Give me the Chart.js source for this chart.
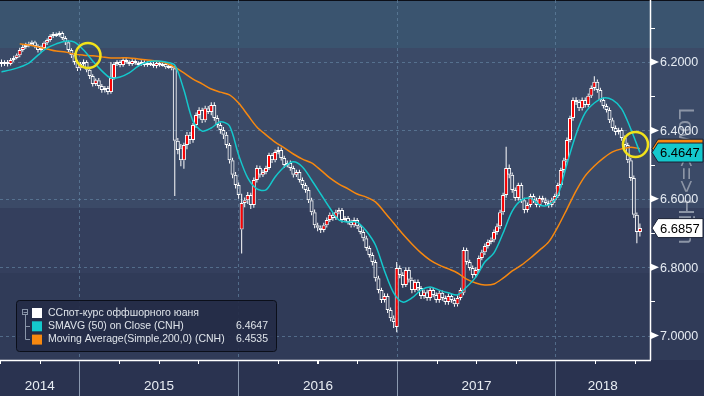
<!DOCTYPE html>
<html>
<head>
<meta charset="utf-8">
<script src="https://cdn.jsdelivr.net/npm/chart.js@4.4.1/dist/chart.umd.min.js"></script>
<style>
  html, body { margin: 0; padding: 0; background: #2a3350; }
  canvas { display: block; }
</style>
</head>
<body>
<canvas id="myChart" width="704" height="396"></canvas>
<script>
// USD/CNH weekly candles, week 0 = early July 2014
const opens = [
  6.200,6.206,6.200,6.206,6.194,6.188,6.180,6.165,6.156,6.150,
  6.147,6.142,6.153,6.165,6.159,6.144,6.136,6.124,6.118,6.121,
  6.115,6.130,6.142,6.165,6.180,6.200,6.218,6.206,6.200,6.223,
  6.241,6.264,6.253,6.270,6.282,6.276,6.288,6.247,6.206,6.200,
  6.209,6.194,6.200,6.206,6.197,6.203,6.206,6.200,6.209,6.203,
  6.206,6.212,6.203,6.209,6.206,6.215,6.212,6.218,6.430,6.450,
  6.487,6.443,6.413,6.428,6.384,6.355,6.340,6.370,6.335,6.346,
  6.326,6.364,6.384,6.399,6.413,6.443,6.487,6.530,6.560,6.690,
  6.612,6.604,6.589,6.618,6.545,6.510,6.530,6.522,6.510,6.472,
  6.487,6.463,6.457,6.481,6.501,6.495,6.510,6.530,6.522,6.545,
  6.560,6.574,6.604,6.639,6.677,6.685,6.691,6.677,6.662,6.647,
  6.656,6.639,6.633,6.662,6.656,6.668,6.677,6.662,6.680,6.697,
  6.715,6.744,6.764,6.785,6.832,6.867,6.896,6.884,6.925,6.949,
  6.975,6.802,6.823,6.852,6.808,6.837,6.867,6.843,6.861,6.884,
  6.873,6.890,6.867,6.881,6.896,6.875,6.890,6.902,6.884,6.896,
  6.908,6.890,6.875,6.750,6.785,6.802,6.823,6.808,6.773,6.756,
  6.738,6.726,6.720,6.697,6.680,6.639,6.589,6.510,6.530,6.574,
  6.598,6.560,6.604,6.633,6.618,6.592,6.604,6.618,6.598,6.604,
  6.612,6.618,6.604,6.592,6.560,6.516,6.487,6.428,6.364,6.311,
  6.317,6.335,6.311,6.326,6.299,6.276,6.258,6.282,6.311,6.329,
  6.340,6.370,6.393,6.405,6.399,6.422,6.443,6.487,6.539,6.647,
  6.697
];
const highs = [
  6.214,6.212,6.213,6.210,6.199,6.192,6.186,6.170,6.161,6.157,
  6.153,6.160,6.172,6.170,6.163,6.150,6.141,6.130,6.127,6.126,
  6.136,6.150,6.171,6.188,6.208,6.226,6.225,6.212,6.230,6.250,
  6.272,6.270,6.278,6.290,6.289,6.295,6.293,6.252,6.212,6.215,
  6.214,6.205,6.212,6.211,6.208,6.213,6.211,6.214,6.214,6.212,
  6.217,6.218,6.214,6.213,6.220,6.220,6.224,6.592,6.470,6.505,
  6.512,6.455,6.440,6.436,6.392,6.365,6.378,6.376,6.352,6.356,
  6.372,6.392,6.410,6.425,6.452,6.497,6.540,6.570,6.600,6.760,
  6.625,6.615,6.630,6.626,6.552,6.538,6.536,6.528,6.516,6.495,
  6.493,6.470,6.488,6.510,6.508,6.518,6.538,6.536,6.552,6.570,
  6.582,6.612,6.648,6.686,6.695,6.700,6.698,6.684,6.668,6.664,
  6.662,6.645,6.670,6.668,6.675,6.684,6.683,6.688,6.704,6.724,
  6.752,6.772,6.795,6.842,6.876,6.905,6.903,6.934,6.958,6.978,
  6.990,6.832,6.860,6.858,6.845,6.876,6.873,6.870,6.893,6.892,
  6.898,6.898,6.888,6.904,6.904,6.898,6.910,6.910,6.904,6.916,
  6.915,6.897,6.882,6.793,6.810,6.832,6.830,6.815,6.780,6.764,
  6.745,6.733,6.727,6.705,6.688,6.647,6.597,6.540,6.582,6.606,
  6.605,6.612,6.642,6.640,6.625,6.612,6.625,6.625,6.610,6.618,
  6.626,6.625,6.612,6.598,6.567,6.524,6.494,6.435,6.372,6.326,
  6.343,6.342,6.333,6.332,6.305,6.284,6.290,6.318,6.336,6.348,
  6.378,6.401,6.414,6.412,6.430,6.452,6.495,6.548,6.656,6.730,
  6.710
];
const lows = [
  6.193,6.195,6.194,6.188,6.182,6.175,6.158,6.150,6.144,6.141,
  6.137,6.138,6.148,6.152,6.140,6.131,6.119,6.112,6.114,6.110,
  6.111,6.124,6.137,6.160,6.174,6.194,6.200,6.193,6.195,6.217,
  6.236,6.248,6.247,6.264,6.270,6.270,6.200,6.200,6.195,6.195,
  6.189,6.189,6.195,6.192,6.192,6.198,6.195,6.195,6.198,6.198,
  6.200,6.198,6.198,6.201,6.201,6.207,6.207,6.212,6.422,6.440,
  6.436,6.405,6.405,6.378,6.348,6.332,6.334,6.328,6.329,6.318,
  6.318,6.356,6.377,6.390,6.405,6.437,6.480,6.522,6.552,6.585,
  6.596,6.580,6.582,6.538,6.502,6.503,6.515,6.503,6.465,6.466,
  6.456,6.448,6.450,6.474,6.488,6.488,6.503,6.515,6.515,6.538,
  6.553,6.566,6.597,6.631,6.670,6.678,6.670,6.655,6.640,6.640,
  6.632,6.626,6.627,6.650,6.650,6.661,6.655,6.656,6.674,6.690,
  6.708,6.737,6.757,6.778,6.825,6.860,6.876,6.877,6.918,6.941,
  6.785,6.795,6.815,6.800,6.800,6.830,6.836,6.836,6.855,6.866,
  6.866,6.860,6.860,6.874,6.868,6.868,6.883,6.877,6.877,6.889,
  6.883,6.860,6.742,6.743,6.778,6.795,6.800,6.766,6.749,6.731,
  6.719,6.713,6.690,6.672,6.632,6.582,6.448,6.500,6.523,6.567,
  6.553,6.553,6.597,6.611,6.585,6.585,6.597,6.591,6.591,6.597,
  6.605,6.597,6.585,6.553,6.509,6.480,6.421,6.357,6.304,6.303,
  6.310,6.304,6.304,6.292,6.269,6.242,6.251,6.275,6.304,6.322,
  6.333,6.363,6.386,6.392,6.392,6.415,6.436,6.480,6.532,6.640,
  6.672
];
const closes = [
  6.206,6.200,6.206,6.194,6.188,6.180,6.165,6.156,6.150,6.147,
  6.142,6.153,6.165,6.159,6.144,6.136,6.124,6.118,6.121,6.115,
  6.130,6.142,6.165,6.180,6.200,6.218,6.206,6.200,6.223,6.241,
  6.264,6.253,6.270,6.282,6.276,6.288,6.247,6.206,6.200,6.209,
  6.194,6.200,6.206,6.197,6.203,6.206,6.200,6.209,6.203,6.206,
  6.212,6.203,6.209,6.206,6.215,6.212,6.218,6.430,6.457,6.487,
  6.443,6.413,6.428,6.384,6.355,6.340,6.370,6.335,6.346,6.326,
  6.364,6.384,6.399,6.413,6.443,6.487,6.530,6.560,6.589,6.612,
  6.604,6.589,6.618,6.545,6.510,6.530,6.522,6.510,6.472,6.487,
  6.463,6.457,6.481,6.501,6.495,6.510,6.530,6.522,6.545,6.560,
  6.574,6.604,6.639,6.677,6.685,6.691,6.677,6.662,6.647,6.656,
  6.639,6.633,6.662,6.656,6.668,6.677,6.662,6.680,6.697,6.715,
  6.744,6.764,6.785,6.832,6.867,6.896,6.884,6.925,6.949,6.960,
  6.802,6.823,6.852,6.808,6.837,6.867,6.843,6.861,6.884,6.873,
  6.890,6.867,6.881,6.896,6.875,6.890,6.902,6.884,6.896,6.908,
  6.890,6.867,6.750,6.785,6.802,6.823,6.808,6.773,6.756,6.738,
  6.726,6.720,6.697,6.680,6.639,6.589,6.510,6.530,6.574,6.598,
  6.560,6.604,6.633,6.618,6.592,6.604,6.618,6.598,6.604,6.612,
  6.618,6.604,6.592,6.560,6.516,6.487,6.428,6.364,6.311,6.317,
  6.335,6.311,6.326,6.299,6.276,6.258,6.282,6.311,6.329,6.340,
  6.370,6.393,6.405,6.399,6.422,6.443,6.487,6.539,6.647,6.697,
  6.6857
];

const sma50 = [
  6.229,6.223,6.215,6.203,6.180,6.159,6.147,6.139,6.142,6.165,
  6.197,6.226,6.247,6.244,6.232,6.212,6.200,6.197,6.200,6.209,
  6.282,6.373,6.402,6.393,6.375,6.387,6.472,6.539,6.571,6.574,
  6.536,6.507,6.492,6.507,6.545,6.586,6.627,6.662,6.668,6.668,
  6.694,6.735,6.811,6.875,6.902,6.890,6.867,6.858,6.867,6.875,
  6.881,6.858,6.829,6.785,6.758,6.700,6.636,6.604,6.598,6.618,
  6.618,6.589,6.498,6.411,6.349,6.320,6.305,6.311,6.337,6.396,
  6.4647
];
const sma200 = [
  null,null,6.147,6.150,6.156,6.162,6.168,6.171,6.177,6.180,
  6.182,6.185,6.188,6.188,6.188,6.191,6.194,6.197,6.203,6.215,
  6.232,6.250,6.264,6.279,6.288,6.296,6.320,6.355,6.390,6.413,
  6.434,6.451,6.469,6.484,6.495,6.516,6.539,6.557,6.571,6.586,
  6.595,6.609,6.639,6.671,6.703,6.732,6.758,6.779,6.794,6.805,
  6.817,6.835,6.846,6.852,6.849,6.832,6.811,6.794,6.773,6.750,
  6.726,6.682,6.630,6.577,6.533,6.504,6.481,6.463,6.454,6.449,
  6.4535
];

const yearLabels = ['2014', '2015', '2016', '2017', '2018'];
const yearStarts = [25.6, 77.8, 130.1, 182.2];   // week of 1 Jan
const priceTicks = [6.2, 6.4, 6.6, 6.8, 7.0];
const minorTicks = [6.1, 6.3, 6.5, 6.7, 6.9];
const lastClose = 6.6857;
const lastSma50 = 6.4647;
const lastSma200 = 6.4535;
const circleWeeks = [28.45, 208.55];
const circleValues = [6.181, 6.441];

const legendRows = [
  { text: 'ССпот-курс оффшорного юаня', color: '#ffffff', value: '' },
  { text: 'SMAVG (50) on Close (CNH)', color: '#14c8cc', value: lastSma50.toFixed(4) },
  { text: 'Moving Average(Simple,200,0) (CNH)', color: '#f7880f', value: lastSma200.toFixed(4) }
];

const bodies = closes.map((c, i) => ({ x: i, y: [opens[i], c] }));
const upperWicks = closes.map((c, i) => ({ x: i, y: [Math.max(opens[i], c), highs[i]] }));
const lowerWicks = closes.map((c, i) => ({ x: i, y: [lows[i], Math.min(opens[i], c)] }));
const bodyFill = closes.map((c, i) => c < opens[i] ? '#ff0000' : 'rgba(0,0,0,0)');
const line50 = sma50.map((v, k) => ({ x: k * 3, y: v }));
const line200 = sma200.map((v, k) => ({ x: k * 3, y: v }));

const FONT = '"Liberation Sans", Arial, sans-serif';

function tag(ctx, y, fill, text) {
  ctx.beginPath();
  ctx.moveTo(652, y);
  ctx.lineTo(658, y - 9.5);
  ctx.lineTo(703, y - 9.5);
  ctx.lineTo(703, y + 9.5);
  ctx.lineTo(658, y + 9.5);
  ctx.closePath();
  ctx.fillStyle = fill;
  ctx.fill();
  ctx.strokeStyle = '#1a2236';
  ctx.lineWidth = 1;
  ctx.stroke();
  ctx.fillStyle = '#000000';
  ctx.font = '13px ' + FONT;
  ctx.textAlign = 'left';
  ctx.textBaseline = 'middle';
  ctx.fillText(text, 660, y + 1);
}

const decor = {
  id: 'decor',
  beforeDraw(chart) {
    const ctx = chart.ctx;
    ctx.save();
    const bands = [[0, 48, '#3a546f'], [48, 160, '#3b4a67'], [208, 65, '#343f5d'], [273, 87, '#303b58'], [360, 36, '#2a3350']];
    bands.forEach(b => { ctx.fillStyle = b[2]; ctx.fillRect(0, b[0], 704, b[1]); });
    ctx.fillStyle = '#0c0f18';
    ctx.fillRect(0, 0, 704, 1);

    // axis title sits behind the labels and value tags
    ctx.translate(685, 176);
    ctx.rotate(Math.PI / 2);
    ctx.fillStyle = '#8c95a6';
    ctx.font = '22px ' + FONT;
    ctx.textAlign = 'center';
    ctx.textBaseline = 'middle';
    ctx.fillText('Low <=> High', 0, 0);
    ctx.restore();
  },
  beforeDatasetsDraw(chart) {
    const ctx = chart.ctx, sx = chart.scales.x, sy = chart.scales.y, ca = chart.chartArea;
    ctx.save();
    ctx.strokeStyle = 'rgba(105,140,170,0.6)';
    ctx.lineWidth = 1;
    ctx.setLineDash([3, 3]);
    priceTicks.forEach(v => {
      const y = Math.round(sy.getPixelForValue(v)) + 0.5;
      ctx.beginPath(); ctx.moveTo(ca.left, y); ctx.lineTo(ca.right, y); ctx.stroke();
    });
    yearStarts.forEach(w => {
      const x = Math.round(sx.getPixelForValue(w)) + 0.5;
      ctx.beginPath(); ctx.moveTo(x, ca.top); ctx.lineTo(x, ca.bottom); ctx.stroke();
    });
    ctx.restore();
  },
  afterDatasetsDraw(chart) {
    const ctx = chart.ctx, sx = chart.scales.x, sy = chart.scales.y, ca = chart.chartArea;
    ctx.save();

    // yellow highlight circles
    ctx.strokeStyle = '#f2e21a';
    ctx.lineWidth = 2.5;
    circleWeeks.forEach((w, i) => {
      ctx.beginPath();
      ctx.arc(sx.getPixelForValue(w), sy.getPixelForValue(circleValues[i]), 12.5, 0, Math.PI * 2);
      ctx.stroke();
    });

    // axis lines
    ctx.strokeStyle = '#ffffff';
    ctx.lineWidth = 1.5;
    ctx.beginPath();
    ctx.moveTo(ca.right + 0.5, 0); ctx.lineTo(ca.right + 0.5, ca.bottom);
    ctx.moveTo(0, ca.bottom + 0.5); ctx.lineTo(ca.right + 1, ca.bottom + 0.5);
    ctx.stroke();

    // y minor ticks
    ctx.lineWidth = 1;
    minorTicks.forEach(v => {
      const y = Math.round(sy.getPixelForValue(v)) + 0.5;
      ctx.beginPath(); ctx.moveTo(ca.right, y); ctx.lineTo(ca.right + 5, y); ctx.stroke();
    });

    // y labels with arrows
    ctx.font = '12.5px ' + FONT;
    ctx.textAlign = 'left';
    ctx.textBaseline = 'middle';
    priceTicks.forEach(v => {
      const y = sy.getPixelForValue(v);
      ctx.fillStyle = '#ffffff';
      ctx.beginPath();
      ctx.moveTo(ca.right + 1, y - 3.5);
      ctx.lineTo(ca.right + 9, y);
      ctx.lineTo(ca.right + 1, y + 3.5);
      ctx.closePath();
      ctx.fill();
      ctx.fillStyle = '#e6ecf3';
      ctx.fillText(v.toFixed(4), ca.right + 10, y + 1);
    });

    // x axis: quarter ticks, year separators and labels
    ctx.strokeStyle = '#ffffff';
    ctx.lineWidth = 1;
    yearStarts.forEach(w => {
      [-2, -1, 1, 2, 3].forEach(q => {
        const x = Math.round(sx.getPixelForValue(w + q * 13.04)) + 0.5;
        if (x > 0 && x < ca.right) {
          ctx.beginPath(); ctx.moveTo(x, ca.bottom); ctx.lineTo(x, ca.bottom + 4); ctx.stroke();
        }
      });
    });
    ctx.strokeStyle = '#8c9ab0';
    const bounds = [ca.left];
    yearStarts.forEach(w => {
      const x = Math.round(sx.getPixelForValue(w)) + 0.5;
      bounds.push(x);
      ctx.beginPath(); ctx.moveTo(x, ca.bottom + 1); ctx.lineTo(x, 396); ctx.stroke();
    });
    bounds.push(ca.right);
    ctx.fillStyle = '#e8edf3';
    ctx.font = '13.5px ' + FONT;
    ctx.textAlign = 'center';
    ctx.textBaseline = 'middle';
    yearLabels.forEach((t, i) => {
      ctx.fillText(t, (bounds[i] + bounds[i + 1]) / 2, 386);
    });

    // last value tags
    tag(ctx, sy.getPixelForValue(lastSma200), '#f7880f', lastSma200.toFixed(4));
    tag(ctx, sy.getPixelForValue(lastSma50), '#14c8cc', lastSma50.toFixed(4));
    tag(ctx, sy.getPixelForValue(lastClose), '#ffffff', lastClose.toFixed(4));

    // legend box
    const lx = 16.5, ly = 300.5, lw = 260, lh = 51;
    ctx.beginPath();
    ctx.roundRect(lx, ly, lw, lh, 3);
    ctx.fillStyle = 'rgba(37,45,70,0.92)';
    ctx.fill();
    ctx.strokeStyle = '#0b0f1a';
    ctx.lineWidth = 1;
    ctx.stroke();

    // tree icon
    ctx.strokeStyle = '#8995a8';
    ctx.strokeRect(22.5, 309.5, 5, 5);
    ctx.beginPath();
    ctx.moveTo(23.5, 312.5); ctx.lineTo(27, 312.5);
    ctx.moveTo(25.5, 315); ctx.lineTo(25.5, 339.5); ctx.lineTo(30, 339.5);
    ctx.moveTo(25.5, 326.5); ctx.lineTo(30, 326.5);
    ctx.stroke();

    ctx.font = '10.5px ' + FONT;
    ctx.textBaseline = 'middle';
    legendRows.forEach((r, i) => {
      const cy = 313 + i * 13.3;
      ctx.fillStyle = r.color;
      ctx.fillRect(32, cy - 5, 10, 10);
      ctx.fillStyle = '#dfe4ea';
      ctx.textAlign = 'left';
      ctx.fillText(r.text, 48, cy);
      if (r.value) {
        ctx.textAlign = 'right';
        ctx.fillText(r.value, 268, cy);
      }
    });
    ctx.restore();
  }
};

const ctx1 = document.getElementById('myChart');
const myChart = new Chart(ctx1, {
  type: 'bar',
  data: {
    datasets: [
      {
        type: 'line',
        label: 'SMAVG (50) on Close (CNH)',
        data: line50,
        borderColor: '#14c8cc',
        borderWidth: 1.5,
        pointRadius: 0,
        tension: 0.3,
        order: 0
      },
      {
        type: 'line',
        label: 'Moving Average(Simple,200,0) (CNH)',
        data: line200,
        borderColor: '#f7880f',
        borderWidth: 1.5,
        pointRadius: 0,
        tension: 0.3,
        order: 1
      },
      {
        label: 'body',
        data: bodies,
        backgroundColor: bodyFill,
        borderColor: '#ffffff',
        borderWidth: 1,
        borderSkipped: false,
        barThickness: 4,
        grouped: false,
        inflateAmount: 0,
        minBarLength: 2,
        order: 2
      },
      {
        label: 'upper wick',
        data: upperWicks,
        backgroundColor: '#ffffff',
        barThickness: 1,
        grouped: false,
        inflateAmount: 0,
        order: 3
      },
      {
        label: 'lower wick',
        data: lowerWicks,
        backgroundColor: '#ffffff',
        barThickness: 1,
        grouped: false,
        inflateAmount: 0,
        order: 3
      }
    ]
  },
  options: {
    responsive: false,
    animation: false,
    devicePixelRatio: 1,
    layout: { padding: { left: 0, top: 0, right: 54, bottom: 36 } },
    plugins: { legend: { display: false }, tooltip: { enabled: false } },
    scales: {
      x: { type: 'linear', display: false, offset: false, min: -0.493, max: 213.32 },
      y: { type: 'linear', display: false, reverse: true, min: 6.01871, max: 7.07135 }
    }
  },
  plugins: [decor]
});
</script>
</body>
</html>
